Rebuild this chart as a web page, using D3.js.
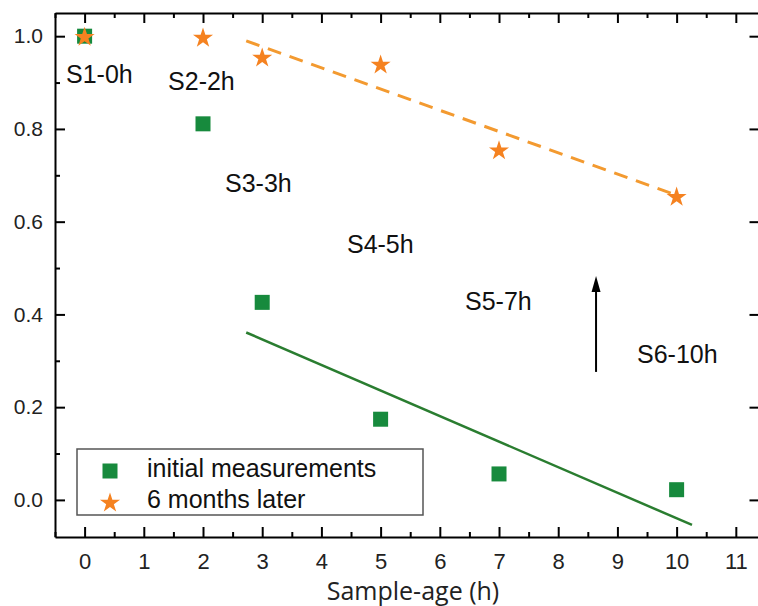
<!DOCTYPE html>
<html>
<head>
<meta charset="utf-8">
<script src="https://cdn.jsdelivr.net/npm/d3@7"></script>
<style>
  html, body { margin: 0; padding: 0; background: #fff; }
  svg { display: block; }
</style>
</head>
<body>
<div id="chart"></div>
<script>
// ---------- data ----------
const sampleAge = [0, 2, 3, 5, 7, 10];
const initialMeasurements = [1.0, 0.811, 0.426, 0.174, 0.056, 0.022];
const sixMonthsLater = [1.0, 0.998, 0.955, 0.94, 0.755, 0.655];
const sampleLabels = ["S1-0h", "S2-2h", "S3-3h", "S4-5h", "S5-7h", "S6-10h"];
const xTicks = [0, 1, 2, 3, 4, 5, 6, 7, 8, 9, 10, 11];
const yTicks = [0.0, 0.2, 0.4, 0.6, 0.8, 1.0];
const greenFitX = [2.73, 10.26];
const greenFitY = [0.361, -0.054];
const orangeFitX = [2.73, 10.0];
const orangeFitY = [0.99, 0.657];
const seriesNames = ["initial measurements", "6 months later"];

// annotation anchors (data units) kept separate from data
const labelPosX = [-0.314, 1.41, 2.372, 4.432, 6.426, 9.331];
const labelPosY = [0.899, 0.884, 0.664, 0.532, 0.410, 0.295];
const arrowX = 8.639, arrowY0 = 0.276, arrowY1 = 0.483;

// ---------- layout ----------
const W = 758, H = 606;
const L = 55, R = 759.5, T = 13, B = 537;
const green = "#178a3d", greenLine = "#2a7d30";
const orange = "#f58220", orangeLine = "#f39a30";

const svg = d3.select("#chart").append("svg").attr("width", W).attr("height", H);

const x = d3.scaleLinear().domain([-0.5, 11.4]).range([L, R]);
const y = d3.scaleLinear().domain([-0.08, 1.05]).range([B, T]);

const xMinor = d3.range(-0.5, 11.41, 0.5).filter(v => !Number.isInteger(v));
const yMinor = [0.1, 0.3, 0.5, 0.7, 0.9];

function styleAxis(g) {
  g.select(".domain").attr("stroke", "#000").attr("stroke-width", 2);
  g.selectAll(".tick line").attr("stroke", "#000").attr("stroke-width", 2);
}
function minorStyle(g) {
  g.select(".domain").remove();
  g.selectAll("line").attr("stroke", "#000").attr("stroke-width", 2);
}
const font = "'Liberation Sans', Arial, sans-serif";

// bottom
const gB = svg.append("g").attr("transform", `translate(0,${B})`)
  .call(d3.axisBottom(x).tickValues(xTicks).tickSizeInner(-10).tickSizeOuter(0).tickPadding(16).tickFormat(d3.format("d")));
styleAxis(gB);
gB.selectAll("text").attr("font-family", font).attr("font-size", 22).attr("fill", "#222");
svg.append("g").attr("transform", `translate(0,${B})`)
  .call(d3.axisBottom(x).tickValues(xMinor).tickSize(-5).tickFormat("")).call(minorStyle);

// top
const gT = svg.append("g").attr("transform", `translate(0,${T})`)
  .call(d3.axisTop(x).tickValues(xTicks).tickSizeInner(-10).tickSizeOuter(0).tickFormat(""));
styleAxis(gT);
svg.append("g").attr("transform", `translate(0,${T})`)
  .call(d3.axisTop(x).tickValues(xMinor).tickSize(-5).tickFormat("")).call(minorStyle);

// left
const gL = svg.append("g").attr("transform", `translate(${L},0)`)
  .call(d3.axisLeft(y).tickValues(yTicks).tickSizeInner(-10).tickSizeOuter(0).tickPadding(12).tickFormat(d3.format(".1f")));
styleAxis(gL);
gL.selectAll("text").attr("font-family", font).attr("font-size", 21).attr("fill", "#222");
svg.append("g").attr("transform", `translate(${L},0)`)
  .call(d3.axisLeft(y).tickValues(yMinor).tickSize(-5).tickFormat("")).call(minorStyle);

// right
const gR = svg.append("g").attr("transform", `translate(${R},0)`)
  .call(d3.axisRight(y).tickValues(yTicks).tickSizeInner(-10).tickSizeOuter(0).tickFormat(""));
styleAxis(gR);

// axis title
svg.append("text")
  .attr("x", 413).attr("y", 600)
  .attr("text-anchor", "middle")
  .attr("font-family", "'Open Sans', sans-serif").attr("font-size", 25).attr("fill", "#222")
  .text("Sample-age (h)");

// fit lines
const line = d3.line().x(d => x(d[0])).y(d => y(d[1]));
svg.append("path").datum(d3.zip(greenFitX, greenFitY))
  .attr("d", line).attr("fill", "none").attr("stroke", greenLine).attr("stroke-width", 2.5);
svg.append("path").datum(d3.zip(orangeFitX, orangeFitY))
  .attr("d", line).attr("fill", "none").attr("stroke", orangeLine).attr("stroke-width", 3)
  .attr("stroke-dasharray", "14,9");

// squares
const sq = 15;
svg.append("g").selectAll("rect").data(d3.zip(sampleAge, initialMeasurements)).join("rect")
  .attr("x", d => x(d[0]) - sq / 2).attr("y", d => y(d[1]) - sq / 2)
  .attr("width", sq).attr("height", sq).attr("fill", green);

// stars
const star = d3.symbol().type(d3.symbolStar).size(125);
svg.append("g").selectAll("path").data(d3.zip(sampleAge, sixMonthsLater)).join("path")
  .attr("transform", d => `translate(${x(d[0])},${y(d[1]) + 1})`)
  .attr("d", star).attr("fill", orange);

// sample labels
svg.append("g").selectAll("text").data(sampleLabels).join("text")
  .attr("x", (d, i) => x(labelPosX[i])).attr("y", (d, i) => y(labelPosY[i]))
  .attr("font-family", font).attr("font-size", 25).attr("fill", "#111")
  .text(d => d);

// arrow
svg.append("line")
  .attr("x1", x(arrowX)).attr("x2", x(arrowX))
  .attr("y1", y(arrowY0)).attr("y2", y(arrowY1) + 12)
  .attr("stroke", "#000").attr("stroke-width", 2);
const ax = x(arrowX), ay = y(arrowY1);
svg.append("path")
  .attr("d", `M${ax},${ay} L${ax - 4.5},${ay + 16} L${ax + 4.5},${ay + 16} Z`)
  .attr("fill", "#000");

// legend
const lg = svg.append("g");
lg.append("rect").attr("x", 77).attr("y", 449).attr("width", 346).attr("height", 66)
  .attr("fill", "#fff").attr("stroke", "#555").attr("stroke-width", 1.5);
lg.append("rect").attr("x", 110 - sq / 2).attr("y", 471 - sq / 2).attr("width", sq).attr("height", sq).attr("fill", green);
lg.append("path").attr("transform", "translate(110,503)").attr("d", star).attr("fill", orange);
lg.selectAll("text").data(seriesNames).join("text")
  .attr("x", 147).attr("y", (d, i) => 477 + i * 31)
  .attr("font-family", font).attr("font-size", 25).attr("fill", "#111")
  .text(d => d);
</script>
</body>
</html>
